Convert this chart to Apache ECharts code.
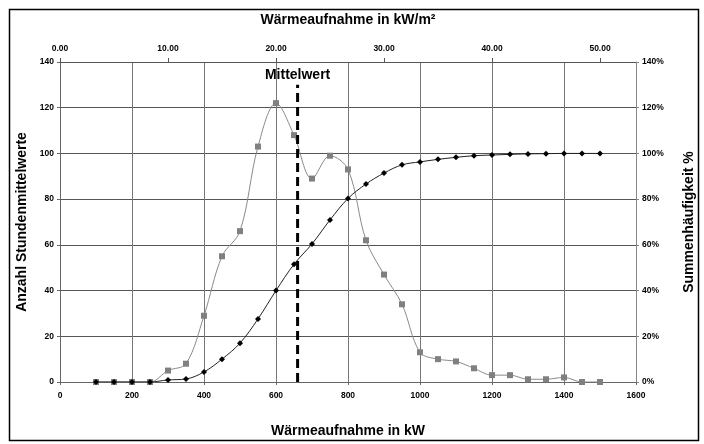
<!DOCTYPE html>
<html><head><meta charset="utf-8">
<script src="https://cdn.jsdelivr.net/npm/echarts@6/dist/echarts.min.js"></script>
<style>html,body{margin:0;padding:0;background:#fff}#c{width:704px;height:444px}</style>
</head><body><div id="c"></div>
<script>
var powerKW = [100,150,200,250,300,350,400,450,500,550,600,650,700,750,800,850,900,950,1000,1050,1100,1150,1200,1250,1300,1350,1400,1450,1500];
var hourCounts = [0,0,0,0,5,8,29,55,66,103,122,108,89,99,93,62,47,34,13,10,9,6,3,3,1.2,1.2,2,0,0];
var cumulativePct = [0,0,0,0,0.9,1.3,4.4,10,17,27.6,40,51.5,60.4,70.9,80.3,86.6,91.4,95,96.3,97.4,98.3,99,99.3,99.6,99.8,99.9,100,100,100];
var meanKW = 660;
var meanLineTop = 130;
var meanLabel = 'Mittelwert';
var leftTicks = [0,20,40,60,80,100,120,140];
var bottomTicks = [0,200,400,600,800,1000,1200,1400,1600];
var topTicksKWm2 = [0,10,20,30,40,50];
var topMax = 53.33;

var font = 'Liberation Sans, Arial, sans-serif';
var chart = echarts.init(document.getElementById('c'), null, {renderer:'canvas'});
function pairs(xs, ys){ return xs.map(function(x,i){return [x, ys[i]];}); }
var tickLabel = {fontFamily:font, fontSize:8.5, fontWeight:'bold', color:'#000'};
chart.setOption({
  animation:false,
  backgroundColor:'#fff',
  graphic:[{type:'rect', shape:{x:9.5,y:9.5,width:689,height:431}, style:{fill:'none', stroke:'#000', lineWidth:1.5}, silent:true}],
  grid:{left:60, right:68, top:62, bottom:62},
  xAxis:[
    {type:'value', position:'bottom', min:bottomTicks[0], max:bottomTicks[bottomTicks.length-1], interval:200,
     name:'Wärmeaufnahme in kW', nameLocation:'middle', nameGap:42,
     nameTextStyle:{fontFamily:font, fontSize:14, fontWeight:'bold', color:'#000'},
     axisLine:{onZero:false, lineStyle:{color:'#666', width:1}}, axisTick:{show:true, length:3, lineStyle:{color:'#666'}},
     axisLabel:Object.assign({margin:9, formatter:function(v){return String(v);}}, tickLabel),
     splitLine:{show:true, lineStyle:{color:'#777', width:1}}},
    {type:'value', position:'top', min:0, max:topMax, interval:10,
     name:'Wärmeaufnahme in kW/m²', nameLocation:'middle', nameGap:35,
     nameTextStyle:{fontFamily:font, fontSize:14, fontWeight:'bold', color:'#000'},
     axisLine:{onZero:false, lineStyle:{color:'#555', width:1}}, axisTick:{show:true, length:4, lineStyle:{color:'#555'}},
     axisLabel:Object.assign({margin:9, showMaxLabel:false, formatter:function(v){return v.toFixed(2);}}, tickLabel),
     splitLine:{show:false}}
  ],
  yAxis:[
    {type:'value', min:leftTicks[0], max:leftTicks[leftTicks.length-1], interval:20,
     name:'Anzahl Stundenmittelwerte', nameLocation:'middle', nameGap:31,
     nameTextStyle:{fontFamily:font, fontSize:14, fontWeight:'bold', color:'#000'},
     axisLine:{show:true, onZero:false, lineStyle:{color:'#666'}}, axisTick:{show:true, length:3, lineStyle:{color:'#666'}},
     axisLabel:Object.assign({margin:6}, tickLabel),
     splitLine:{show:true, lineStyle:{color:'#555', width:1}}},
    {type:'value', min:0, max:140, interval:20, position:'right',
     name:'Summenhäufigkeit %', nameLocation:'middle', nameGap:46,
     nameTextStyle:{fontFamily:font, fontSize:14, fontWeight:'bold', color:'#000'},
     axisLine:{show:true, onZero:false, lineStyle:{color:'#888'}}, axisTick:{show:true, length:3, lineStyle:{color:'#888'}},
     axisLabel:Object.assign({margin:6, formatter:'{value}%'}, tickLabel),
     splitLine:{show:false}}
  ],
  series:[
    {type:'line', name:'count', xAxisIndex:0, yAxisIndex:0, data:pairs(powerKW, hourCounts), smooth:0.35,
     symbol:'rect', symbolSize:6, itemStyle:{color:'#808080'}, lineStyle:{color:'#8a8a8a', width:1}, z:3},
    {type:'line', name:'cum', xAxisIndex:0, yAxisIndex:1, data:pairs(powerKW, cumulativePct), smooth:0.35,
     symbol:'diamond', symbolSize:6, itemStyle:{color:'#000'}, lineStyle:{color:'#222', width:1}, z:4},
    {type:'line', name:'mean', xAxisIndex:0, yAxisIndex:0, data:[[meanKW,0],[meanKW,meanLineTop]],
     symbol:'none', lineStyle:{color:'#000', width:3, type:[9,5]}, z:5},
    {type:'scatter', name:'meanLabel', xAxisIndex:0, yAxisIndex:0, data:[[meanKW, meanLineTop]],
     symbolSize:0, itemStyle:{color:'#000', opacity:1}, z:6,
     label:{show:true, position:'top', distance:3, formatter:meanLabel,
       fontFamily:font, fontSize:14, fontWeight:'bold', color:'#000', opacity:1}}
  ]
});
</script></body></html>
